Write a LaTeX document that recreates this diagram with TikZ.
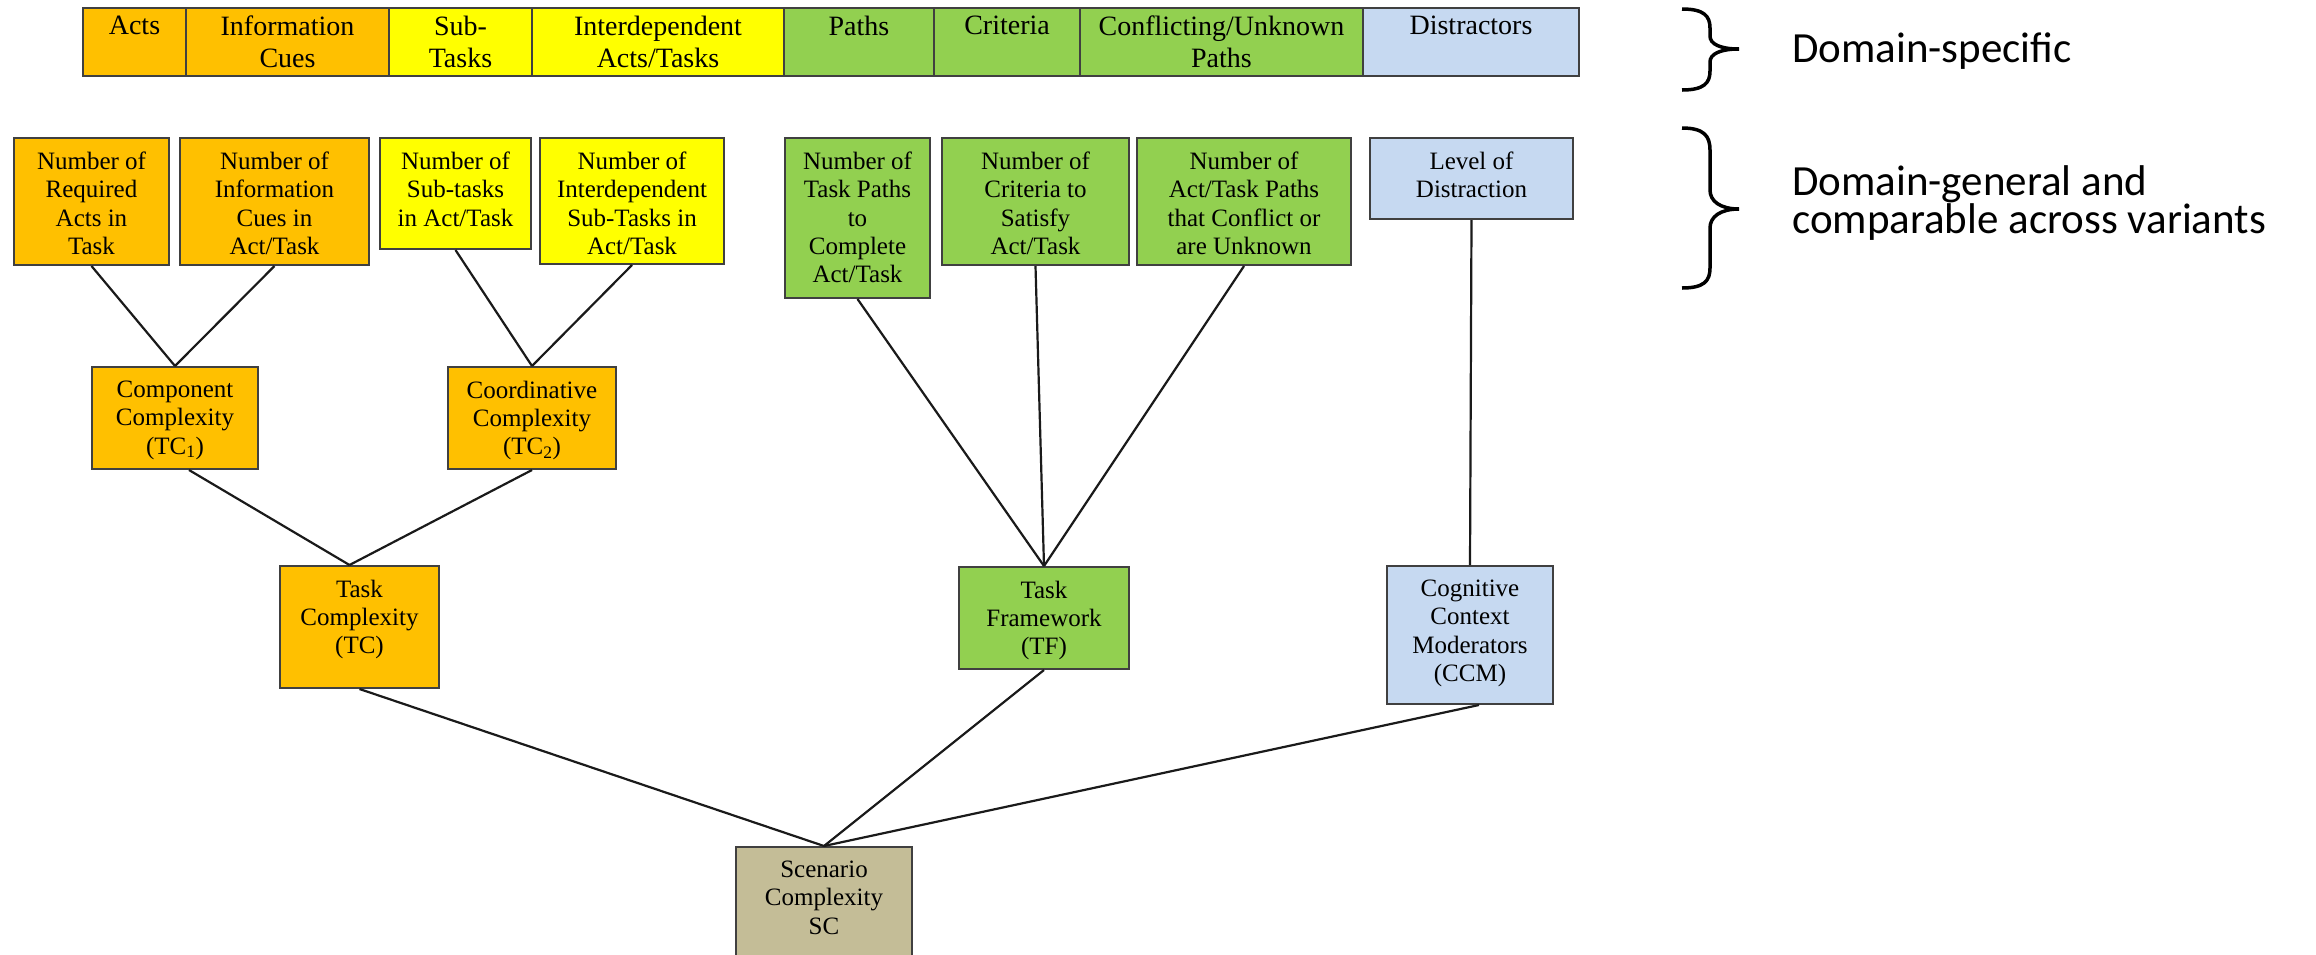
\documentclass[tikz,border=0pt]{standalone}
\usepackage{fontspec}
\setmainfont{Liberation Serif}
\newfontfamily\calib{Carlito}
\definecolor{orng}{HTML}{FFC000}
\definecolor{yllw}{HTML}{FFFF00}
\definecolor{grn}{HTML}{92D050}
\definecolor{lblue}{HTML}{C6D9F1}
\definecolor{tan}{HTML}{C4BD97}
\definecolor{bordc}{HTML}{404040}
\definecolor{linec}{HTML}{1A1A1A}
\newcommand\mybox[4]{\parbox[c][#2][t]{#1}{\centering\vspace*{#3}#4\par}}
\tikzset{
  bx/.style={draw=bordc, line width=2pt, inner sep=0pt, anchor=north west, font=\fontsize{25}{28.3}\selectfont},
  cell/.style={draw=bordc, line width=2pt, inner sep=0pt, anchor=north west, font=\fontsize{28}{32}\selectfont},
  conn/.style={draw=linec, line width=2.2pt},
  brc/.style={draw=black, line width=3.5pt},
  side/.style={inner sep=0pt, anchor=base west, font=\calib\fontsize{43}{37}\selectfont}
}
\begin{document}
\begin{tikzpicture}[x=1pt,y=-1pt]
\useasboundingbox (0,0) rectangle (2316,954);
\fill[white] (0,0) rectangle (2316,954);
% top bar
\node[cell, fill=orng] (t1) at (82,7) {\mybox{103pt}{68pt}{8pt}{Acts}};
\node[cell, fill=orng] (t2) at (185,7) {\mybox{203pt}{68pt}{8pt}{Information\\Cues}};
\node[cell, fill=yllw] (t3) at (388,7) {\mybox{143pt}{68pt}{8pt}{Sub-\\Tasks}};
\node[cell, fill=yllw] (t4) at (531,7) {\mybox{252pt}{68pt}{8pt}{Interdependent\\Acts/Tasks}};
\node[cell, fill=grn] (t5) at (783,7) {\mybox{150pt}{68pt}{8pt}{Paths}};
\node[cell, fill=grn] (t6) at (933,7) {\mybox{146pt}{68pt}{8pt}{Criteria}};
\node[cell, fill=grn] (t7) at (1079,7) {\mybox{283pt}{68pt}{8pt}{Conflicting/Unknown\\Paths}};
\node[cell, fill=lblue] (t8) at (1362,7) {\mybox{216pt}{68pt}{8pt}{Distractors}};
% row 2
\node[bx, fill=orng] (a) at (13,137) {\mybox{155pt}{127pt}{14pt}{Number of\\Required\\Acts in\\Task}};
\node[bx, fill=orng] (b) at (179,137) {\mybox{189pt}{127pt}{14pt}{Number of\\Information\\Cues in\\Act/Task}};
\node[bx, fill=yllw] (c) at (379,137) {\mybox{151pt}{111pt}{14pt}{Number of\\Sub-tasks\\in Act/Task}};
\node[bx, fill=yllw] (d) at (539,137) {\mybox{184pt}{126pt}{14pt}{Number of\\Interdependent\\Sub-Tasks in\\Act/Task}};
\node[bx, fill=grn] (e) at (784,137) {\mybox{145pt}{160pt}{14pt}{Number of\\Task Paths\\to\\Complete\\Act/Task}};
\node[bx, fill=grn] (f) at (941,137) {\mybox{187pt}{127pt}{14pt}{Number of\\Criteria to\\Satisfy\\Act/Task}};
\node[bx, fill=grn] (g) at (1136,137) {\mybox{214pt}{127pt}{14pt}{Number of\\Act/Task Paths\\that Conflict or\\are Unknown}};
\node[bx, fill=lblue] (h) at (1369,137) {\mybox{203pt}{81pt}{14pt}{Level of\\Distraction}};
% row 3
\node[bx, fill=orng] (cc) at (91,366) {\mybox{166pt}{102pt}{14pt}{Component\\Complexity\\(TC\textsubscript{1})}};
\node[bx, fill=orng] (co) at (447,366) {\mybox{168pt}{102pt}{14pt}{Coordinative\\Complexity\\(TC\textsubscript{2})}};
% row 4
\node[bx, fill=orng] (tc) at (279,565) {\mybox{159pt}{122pt}{14pt}{Task\\Complexity\\(TC)}};
\node[bx, fill=grn] (tf) at (958,566) {\mybox{170pt}{102pt}{14pt}{Task\\Framework\\(TF)}};
\node[bx, fill=lblue] (ccm) at (1386,565) {\mybox{166pt}{138pt}{14pt}{Cognitive\\Context\\Moderators\\(CCM)}};
% row 5
\node[bx, fill=tan] (sc) at (735,846) {\mybox{176pt}{112pt}{14pt}{Scenario\\Complexity\\SC}};
% connectors
\draw[conn] (a.south) -- (cc.north);
\draw[conn] (b.south) -- (cc.north);
\draw[conn] (c.south) -- (co.north);
\draw[conn] (d.south) -- (co.north);
\draw[conn] ([xshift=14pt]cc.south) -- ([xshift=-10pt]tc.north);
\draw[conn] (co.south) -- ([xshift=-10pt]tc.north);
\draw[conn] (e.south) -- (tf.north);
\draw[conn] (f.south) -- (tf.north);
\draw[conn] (g.south) -- (tf.north);
\draw[conn] (h.south) -- (ccm.north);
\draw[conn] (tc.south) -- (sc.north);
\draw[conn] (tf.south) -- (sc.north);
\draw[conn] ([xshift=9pt]ccm.south) -- (sc.north);
% braces
\draw[brc] (1682,9) .. controls (1704,9) and (1710,16) .. (1710,28) -- (1710,36) .. controls (1710,44) and (1720,49) .. (1739,49) .. controls (1720,49) and (1710,54) .. (1710,62) -- (1710,71) .. controls (1710,83) and (1704,90) .. (1682,90);
\draw[brc] (1682,128) .. controls (1704,128) and (1710,136) .. (1710,150) -- (1710,190) .. controls (1710,201) and (1720,209) .. (1739,209) .. controls (1720,209) and (1710,217) .. (1710,228) -- (1710,268) .. controls (1710,281) and (1704,288) .. (1682,288);
% side labels
\node[side] (ds) at (1792,62) {Domain-specific};
\node[side] (dg) at (1792,195) {\parbox[t]{510pt}{\raggedright Domain-general and\\comparable across variants}};
\end{tikzpicture}
\end{document}
